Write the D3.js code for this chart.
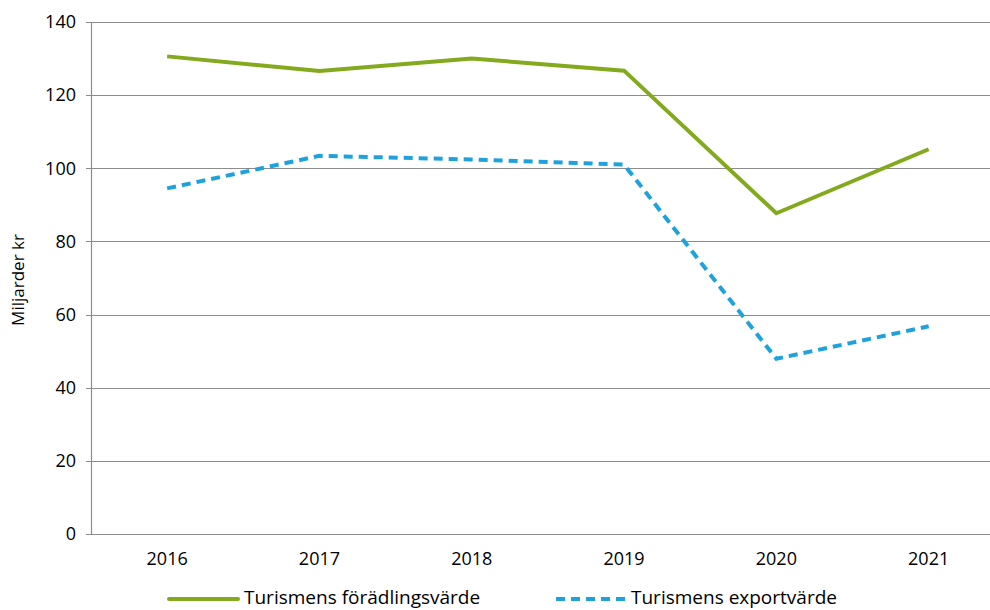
<!DOCTYPE html>
<html>
<head>
<meta charset="utf-8">
<script src="https://cdn.jsdelivr.net/npm/d3@7"></script>
<style>
body { margin: 0; background: #fff; }
svg { display: block; font-family: "Open Sans", "Noto Sans", sans-serif; }
</style>
</head>
<body>
<div id="chart"></div>
<script>
// data
var years = ["2016", "2017", "2018", "2019", "2020", "2021"];
var foradling = [130.6, 126.6, 130.0, 126.7, 87.7, 105.2];
var export_ = [94.5, 103.4, 102.4, 101.0, 47.9, 56.8];
var yTicks = [0, 20, 40, 60, 80, 100, 120, 140];
var seriesNames = ["Turismens förädlingsvärde", "Turismens exportvärde"];

var W = 990, H = 610;
var plotLeft = 91, plotTop = 22, plotBottom = 534;

var svg = d3.select("#chart").append("svg")
    .attr("width", W)
    .attr("height", H);

// x: point scale, runs past the right edge like the original
var x = d3.scalePoint()
    .domain(years)
    .range([plotLeft, plotLeft + 6 * 152.3])
    .padding(0.5);

var y = d3.scaleLinear()
    .domain([0, 140])
    .range([plotBottom, plotTop]);

// gridlines
svg.append("g")
    .selectAll("line")
    .data(yTicks)
    .enter()
    .append("line")
    .attr("x1", plotLeft - 5)
    .attr("x2", W)
    .attr("y1", function(d) { return Math.round(y(d)) + 0.5; })
    .attr("y2", function(d) { return Math.round(y(d)) + 0.5; })
    .style("stroke", "#8c8c8c")
    .style("stroke-width", 1.2);

// y axis line
svg.append("line")
    .attr("x1", plotLeft + 0.5).attr("x2", plotLeft + 0.5)
    .attr("y1", y(140)).attr("y2", y(0))
    .style("stroke", "#8c8c8c")
    .style("stroke-width", 1.2);

// y tick labels
svg.append("g")
    .selectAll("text")
    .data(yTicks)
    .enter()
    .append("text")
    .attr("x", plotLeft - 15)
    .attr("y", function(d) { return y(d); })
    .attr("dy", "0.35em")
    .attr("text-anchor", "end")
    .style("font-size", "18px")
    .style("fill", "#000")
    .text(function(d) { return d; });

// x tick labels
svg.append("g")
    .selectAll("text")
    .data(years)
    .enter()
    .append("text")
    .attr("x", function(d) { return x(d); })
    .attr("y", 565)
    .attr("text-anchor", "middle")
    .style("font-size", "18px")
    .style("fill", "#000")
    .text(function(d) { return d; });

// y axis title
svg.append("text")
    .attr("transform", "translate(24," + 280 + ") rotate(-90)")
    .attr("text-anchor", "middle")
    .style("font-size", "17px")
    .style("fill", "#000")
    .text("Miljarder kr");

var line = d3.line()
    .x(function(d, i) { return x(years[i]); })
    .y(function(d) { return y(d); });

svg.append("path")
    .datum(foradling)
    .attr("d", line)
    .style("fill", "none")
    .style("stroke", "#82aa1c")
    .style("stroke-width", 4)
    .style("stroke-linejoin", "miter");

svg.append("path")
    .datum(export_)
    .attr("d", line)
    .style("fill", "none")
    .style("stroke", "#1ea2dd")
    .style("stroke-width", 4)
    .style("stroke-dasharray", "9,6");

// legend
var legY = 597;
var legend = svg.append("g");
legend.append("line")
    .attr("x1", 169).attr("x2", 238)
    .attr("y1", legY + 2).attr("y2", legY + 2)
    .style("stroke", "#82aa1c")
    .style("stroke-width", 4)
    .style("stroke-linecap", "round");
legend.append("text")
    .attr("x", 244).attr("y", legY)
    .attr("dy", "0.35em")
    .style("font-size", "19px")
    .text(seriesNames[0]);

legend.append("line")
    .attr("x1", 556).attr("x2", 625)
    .attr("y1", legY + 2).attr("y2", legY + 2)
    .style("stroke", "#1ea2dd")
    .style("stroke-width", 4)
    .style("stroke-dasharray", "9,6");
legend.append("text")
    .attr("x", 631).attr("y", legY)
    .attr("dy", "0.35em")
    .style("font-size", "19px")
    .text(seriesNames[1]);
</script>
</body>
</html>
